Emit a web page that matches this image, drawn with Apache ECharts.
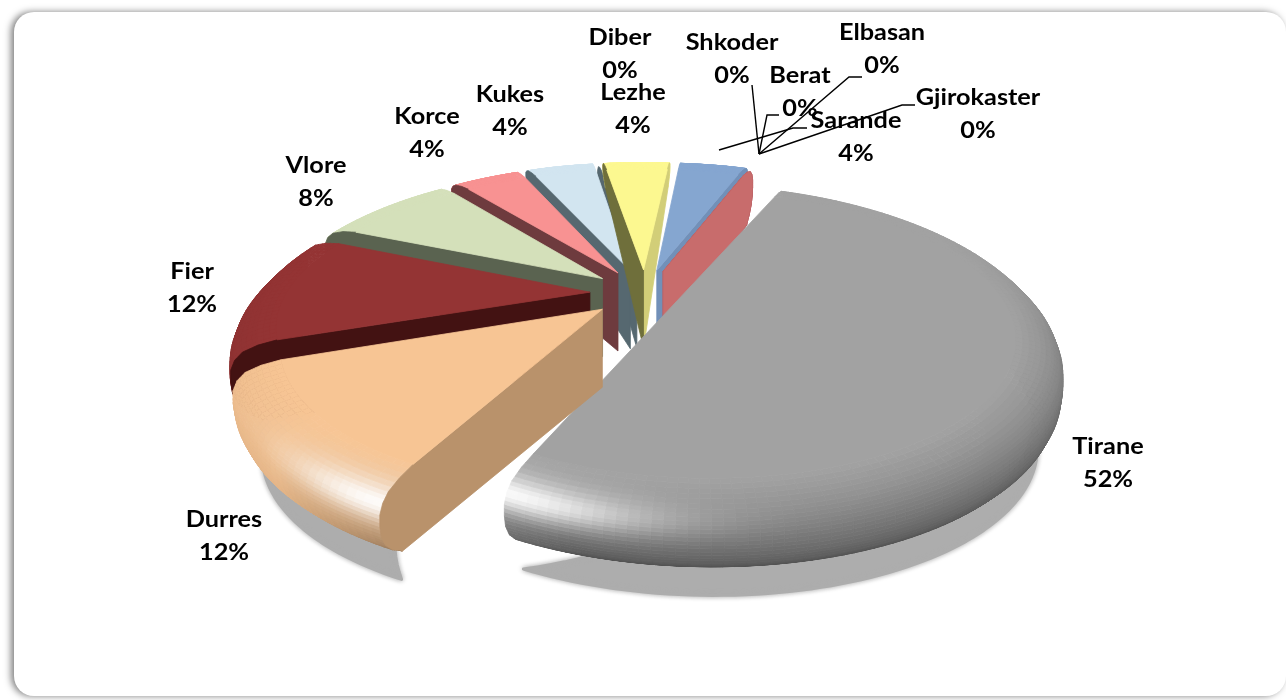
<!DOCTYPE html>
<html><head><meta charset="utf-8">
<style>html,body{margin:0;padding:0;background:#fff}#c{width:1286px;height:700px}</style>
<script src="https://cdn.jsdelivr.net/npm/echarts@6/dist/echarts.min.js"></script>
</head><body><div id="c"></div>
<script>
// ---- data (clockwise from the first slice) ----
var categories = ['Tirane','Durres','Fier','Vlore','Korce','Kukes','Diber','Lezhe','Sarande','Shkoder','Berat','Elbasan','Gjirokaster'];
var values     = [52,12,12,8,4,4,0,4,4,0,0,0,0];
var topColors  = ['#A2A2A2','#F7C594','#943434','#D4E0BA','#F89292','#D2E5F0','#D2E5F0','#FCF890','#85A6D0','#C86C6C','#C86C6C','#A04A58','#C86C6C'];
var startFaces = ['#777777','#B9926B','#431212','#5A6350','#6E3B3E','#566870','#566870','#6F6F3B','#7290B8','#C86C6C','#C86C6C','#C86C6C','#C86C6C'];
var endFaces   = ['#777777','#B9926B','#431212','#5A6350','#6E3B3E','#566870','#566870','#D2CE78','#7290B8','#C86C6C','#C86C6C','#A04A58','#C86C6C'];
var paintOrder = ['Diber','Kukes','Lezhe','Sarande','Shkoder','Berat','Elbasan','Gjirokaster','Korce','Vlore','Fier','Tirane','Durres'];

// ---- layout ----
var labelCenters = {Tirane:[1108,463],Durres:[224,536],Fier:[192,288],Vlore:[316,182],Korce:[427,133],Kukes:[510,111],Diber:[620,54],Lezhe:[633,109],Sarande:[856,137],Shkoder:[732,59],Berat:[800,92],Elbasan:[882,49],Gjirokaster:[978,114]};
var leaders = [[[752,85],[759,154]],[[779,115],[767,115],[759,154]],[[862,77],[849,77],[759,154]],[[915,105],[902,105],[759,154]],[[807,128],[793,128],[719,150]]];
var CX=645, CY=293, RX=345, RY=150, PERSP=0.25, DEPTH=78, EXPLODE=0.16, START=20, BACKTAPER=0.75, ZEROTAPER=0.35;
// bevelled rim profile: radius fraction, drop fraction (densified below)
var coarse=[[.88,0],[.93,.03],[.97,.09],[.99,.18],[1,.3],[1,.45],[.995,.6],[.98,.75],[.955,.88],[.93,.96],[.92,1]];
var profile=[];
coarse.forEach(function(q,i){
  if(i===coarse.length-1){profile.push(q);return;}
  for(var k=0;k<3;k++){var f=k/3;profile.push([q[0]+(coarse[i+1][0]-q[0])*f,q[1]+(coarse[i+1][1]-q[1])*f]);}
});

var total=values.reduce(function(a,b){return a+b;},0);
var rad=Math.PI/180, slices=[], run=START;
values.forEach(function(v,i){var a=v/total*360; slices.push({i:i,a0:run,a1:run+a,mid:run+a/2,v:v}); run+=a;});
var STEP=1.5;

function P(s,r,deg,drop){
  var m=s.mid*rad,t=deg*rad;
  var u=EXPLODE*Math.sin(m)+r*Math.sin(t), v=EXPLODE*Math.cos(m)+r*Math.cos(t), w=1+PERSP*v;
  var taper=1-(s.v===0?ZEROTAPER:BACKTAPER)*Math.max(0,Math.min(1,(v-0.2)/0.9));
  return [CX+RX*u/w, CY-RY*v/w+drop*DEPTH*taper];
}
function hex(c){return [parseInt(c.substr(1,2),16),parseInt(c.substr(3,2),16),parseInt(c.substr(5,2),16)];}
function clamp(x){return Math.max(0,Math.min(1,x));}
function shade(base,deg,t){
  var d=((deg%360)+360)%360;
  var front=clamp((0.55-Math.cos(d*rad))/0.7);
  var left=clamp((d-198)/30);
  var dark=(0.62-0.5*left)*front*Math.pow(t,1.1);
  var sw=d<208?20:16;
  var spec=Math.exp(-Math.pow((d-208)/sw,2))*Math.exp(-Math.pow((t-0.3)/0.16,2))*0.95;
  var c=hex(base).map(function(x){var y=x*(1-dark); return Math.round(y+(255-y)*spec);});
  return 'rgb('+c.join(',')+')';
}
function poly(points,fill){
  return {type:'polygon',silent:true,shape:{points:points},style:{fill:fill,stroke:fill,lineWidth:0.8}};
}
function arc(s,r,drop,rev){
  var pts=[],n=Math.max(1,Math.ceil((s.a1-s.a0)/STEP));
  for(var k=0;k<=n;k++){pts.push(P(s,r,s.a0+(s.a1-s.a0)*k/n,drop));}
  return rev?pts.reverse():pts;
}
function face(s,deg,color){
  var pts=[P(s,0,deg,0)];
  profile.forEach(function(q){pts.push(P(s,q[0],deg,q[1]));});
  pts.push(P(s,0,deg,1));
  return poly(pts,color);
}
function faceVisible(s,deg){
  if(s.a1-s.a0>180) return false;
  var a=P(s,0,deg,0),b=P(s,1,deg,0),c=P(s,1,s.mid,0);
  var side=function(x,y){return (b[0]-a[0])*(y-a[1])-(b[1]-a[1])*(x-a[0]);};
  return side(a[0],a[1]+1)*side(c[0],c[1])<0;
}
function drawSlice(s){
  var kids=[],base=topColors[s.i];
  if(s.v>0){
    var n=Math.max(1,Math.ceil((s.a1-s.a0)/STEP));
    for(var b=profile.length-2;b>=0;b--){
      var q0=profile[b],q1=profile[b+1],t=(b+0.5)/(profile.length-1);
      for(var k=0;k<n;k++){
        var d0=s.a0+(s.a1-s.a0)*k/n,d1=s.a0+(s.a1-s.a0)*(k+1)/n;
        kids.push(poly([P(s,q0[0],d0,q0[1]),P(s,q0[0],d1,q0[1]),P(s,q1[0],d1,q1[1]),P(s,q1[0],d0,q1[1])],shade(base,(d0+d1)/2,t)));
      }
    }
    if(faceVisible(s,s.a1)) kids.push(face(s,s.a1,endFaces[s.i]));
    if(faceVisible(s,s.a0)) kids.push(face(s,s.a0,startFaces[s.i]));
    // slices wider than a half disc close straight across, with no reflex apex
    var apex=(s.a1-s.a0>180)?[]:[P(s,0,s.a0,0)];
    kids.push(poly(apex.concat(arc(s,.88,0)),base));
  } else {
    kids.push(face(s,s.a1,endFaces[s.i]));
  }
  return kids;
}
function drawShadow(s){
  if(s.v===0||Math.cos(s.mid*rad)>0.2) return [];
  var n=Math.ceil((s.a1-s.a0)/STEP),inner=[];
  for(var k=n;k>=0;k--){
    var d=s.a0+(s.a1-s.a0)*k/n, edge=Math.min(d-s.a0,s.a1-d);
    inner.push(P(s,.93-0.13*clamp(edge/9),d,1));
  }
  var pts=arc(s,.93,1).concat(inner).map(function(p){return [p[0]+2,p[1]+26];});
  return [{type:'polygon',silent:true,shape:{points:pts},style:{fill:'#ADADAD',stroke:'#ADADAD',lineWidth:3,lineJoin:'round',shadowBlur:5,shadowColor:'#ADADAD'}}];
}
var paint=paintOrder.map(function(n){return slices[categories.indexOf(n)];});

var chart=echarts.init(document.getElementById('c'),null,{renderer:'canvas'});
chart.setOption({
  animation:false,
  graphic:[{type:'rect',z:-10,silent:true,shape:{x:14,y:12,width:1272,height:684,r:20},style:{fill:'#fff',shadowBlur:7,shadowColor:'rgba(0,0,0,0.5)',shadowOffsetX:-3,shadowOffsetY:0}}],
  series:[
    {type:'custom',coordinateSystem:'none',silent:true,z:2,data:paint.map(function(s,i){return [i];}),
     renderItem:function(p,api){return {type:'group',children:drawShadow(paint[api.value(0)])};}},
    {type:'custom',coordinateSystem:'none',silent:true,z:3,data:paint.map(function(s,i){return [i];}),
     renderItem:function(p,api){return {type:'group',children:drawSlice(paint[api.value(0)])};}},
    {type:'custom',coordinateSystem:'none',silent:true,z:4,data:leaders.map(function(l,i){return [i];}),
     renderItem:function(p,api){return {type:'polyline',silent:true,shape:{points:leaders[api.value(0)]},style:{fill:null,stroke:'#000',lineWidth:1.4}};}},
    {type:'custom',coordinateSystem:'none',silent:true,z:5,data:categories.map(function(c,i){return [i];}),
     renderItem:function(p,api){
       var i=api.value(0),c=labelCenters[categories[i]];
       return {type:'text',silent:true,x:c[0],y:c[1],scaleX:1.1,style:{x:0,y:0,text:categories[i]+'\n'+Math.round(values[i]/total*100)+'%',fill:'#000',fontFamily:'Lato',fontWeight:'bold',fontSize:23,lineHeight:33,align:'center',verticalAlign:'middle'}};
     }}
  ]
});
</script></body></html>
